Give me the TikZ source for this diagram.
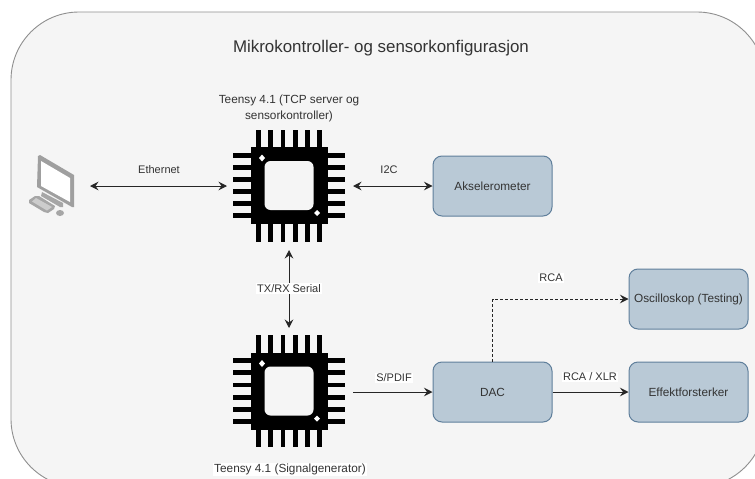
\documentclass[tikz,border=0pt]{standalone}
\usepackage{fontspec}
\setmainfont{Liberation Sans}
\usetikzlibrary{arrows.meta}
\definecolor{panelfill}{HTML}{F5F5F5}
\definecolor{panelline}{HTML}{8F8F8F}
\definecolor{boxfill}{HTML}{B9C9D6}
\definecolor{boxline}{HTML}{5F7F9B}
\definecolor{txt}{HTML}{333333}
\tikzset{
  x=1pt,y=-1pt,
  bluebox/.style={draw=boxline,fill=boxfill,line width=1pt,rounded corners=9pt,minimum width=119pt,minimum height=60pt,inner sep=0pt,text=txt,font=\fontsize{11.8}{14}\selectfont},
  lbl/.style={text=txt,font=\fontsize{11}{15}\selectfont,inner sep=1pt,align=center},
  chipcaption/.style={text=txt,font=\fontsize{11.8}{15.4}\selectfont,inner sep=1pt,align=center},
  wire/.style={line width=1pt,draw=black!85,-{Stealth[length=8.5pt,width=8.5pt,inset=3pt]}},
  wire2/.style={wire,{Stealth[length=8.5pt,width=8.5pt,inset=3pt]}-{Stealth[length=8.5pt,width=8.5pt,inset=3pt]}},
}
\newcommand{\chipicon}[2]{%
  \begin{scope}[shift={(#1,#2)}]
    \foreach \k in {-30.3,-18.2,-6.1,6.1,18.2,30.3}{
      \fill[black] (\k-2.4,-56) rectangle (\k+2.4,56);
      \fill[black] (-56,\k-2.4) rectangle (56,\k+2.4);
    }
    \fill[black] (-38.5,-38.5) rectangle (38.5,38.5);
    \fill[panelfill,rounded corners=6pt] (-24.5,-24.5) rectangle (24.5,24.5);
    \fill[white] (-27,-31) -- (-24,-27.5) -- (-27,-24) -- (-30,-27.5) -- cycle;
    \fill[white] (28,24.5) -- (31,27.5) -- (28,30.5) -- (25,27.5) -- cycle;
  \end{scope}}
\begin{document}
\begin{tikzpicture}
\useasboundingbox (0,0) rectangle (755,479);
\fill[white] (0,0) rectangle (755,479);
\begin{scope}
\clip (0,0) rectangle (755,479);
\draw[panelline,fill=panelfill,line width=0.9pt,rounded corners=68pt] (11,12) rectangle (765,487);
\end{scope}
\node[text=txt,font=\fontsize{16.9}{20}\selectfont,inner sep=0pt] (title) at (381,48) {Mikrokontroller- og sensorkonfigurasjon};

% computer icon
\begin{scope}
\fill[gray!75] (38,156) -- (40,155) -- (74,175) -- (74,207) -- (72,207) -- (37,187) -- cycle;
\fill[white] (41,161) -- (70,178) -- (70,202) -- (41,186) -- cycle;
\fill[gray!70] (42,192) -- (63,203) -- (63,207) -- (60,207) -- (41,196) -- cycle;
\fill[gray!70] (35,196) -- (39,196) -- (55,206) -- (54,209) -- (48,213) -- (44,212) -- (29,203) -- (29,200) -- cycle;
\fill[gray!40] (36,198) -- (52,207) -- (47,210.5) -- (32,201.5) -- cycle;
\fill[gray!70] (60,213) ellipse (4pt and 3pt);
\end{scope}
\coordinate (pc) at (90,186);

\chipicon{289}{185.5}
\chipicon{289}{391}
\coordinate (chipAw) at (227,186);
\coordinate (chipAe) at (353,186);
\coordinate (chipAs) at (289,250);
\coordinate (chipBn) at (289,328);
\coordinate (chipBe) at (353,392);

\node[bluebox] (aks) at (492.5,186) {Akselerometer};
\node[bluebox] (osc) at (688.5,299) {Oscilloskop (Testing)};
\node[bluebox] (dac) at (492.5,392) {DAC};
\node[bluebox] (eff) at (688.5,392) {Effektforsterker};

\draw[wire2] (pc) -- (chipAw);
\draw[wire2] (chipAe) -- (aks.west);
\draw[wire2] (chipAs) -- (chipBn);
\draw[wire] (chipBe) -- (dac.west);
\draw[wire] (dac.east) -- (eff.west);
\draw[wire,dash pattern=on 3pt off 2pt] (dac.north) |- (osc.west);

\node[lbl] (l1) at (159,170) {Ethernet};
\node[lbl] (l2) at (389,170) {I2C};
\node[lbl,fill=white!97!panelfill] (l3) at (289,288.5) {TX/RX Serial};
\node[lbl,fill=white!97!panelfill] (l4) at (394,378) {S/PDIF};
\node[lbl,fill=white!97!panelfill] (l5) at (551,278) {RCA};
\node[lbl,fill=white!97!panelfill] (l6) at (590,377) {RCA / XLR};
\node[chipcaption] (t1) at (289,108.5) {Teensy 4.1 (TCP server og\\sensorkontroller)};
\node[chipcaption,fill=white!97!panelfill] (t2) at (290,469) {Teensy 4.1 (Signalgenerator)};
\end{tikzpicture}
\end{document}
